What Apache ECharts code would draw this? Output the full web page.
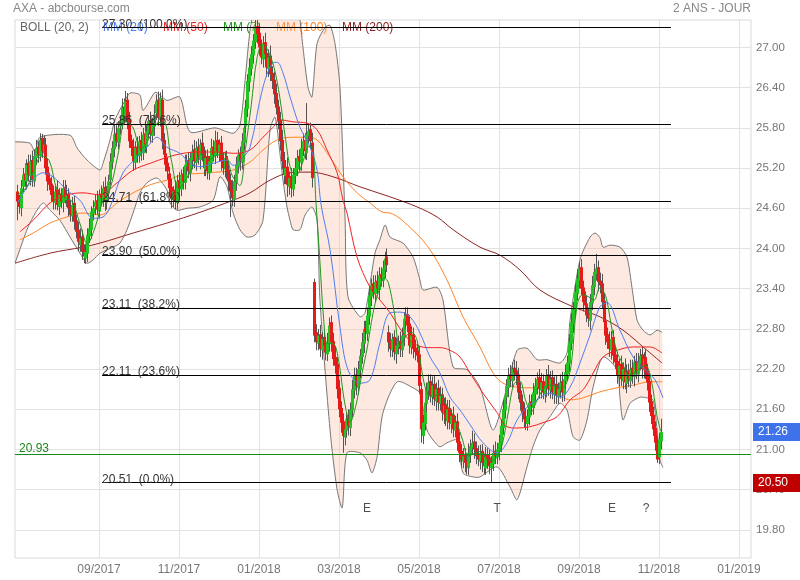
<!DOCTYPE html>
<html><head><meta charset="utf-8">
<script src="https://cdn.jsdelivr.net/npm/echarts@6/dist/echarts.min.js"></script>
<style>html,body{margin:0;padding:0;background:#fff}#c{width:800px;height:580px}</style>
</head><body><div id="c"></div>
<script>
// ---------- axis ticks ----------
const monthTickPos = [44.1, 86.1, 128.1, 170.1, 212.1, 254.1, 296.1, 338.1, 380.1];
const monthTickLabels = ['09/2017','11/2017','01/2018','03/2018','05/2018','07/2018','09/2018','11/2018','01/2019'];
const priceTicks = [19.8, 20.4, 21.0, 21.6, 22.2, 22.8, 23.4, 24.0, 24.6, 25.2, 25.8, 26.4, 27.0];

// ---------- daily candles (trading-day index 1..339) ----------
const opens = [
24.85,24.72,24.60,24.92,25.12,25.00,25.28,25.08,25.32,25.00,
25.35,25.52,25.38,25.65,25.42,25.55,25.22,25.05,24.97,24.82,
24.68,24.88,24.62,24.82,24.68,24.92,24.72,24.82,24.62,24.48,
24.68,24.42,24.28,24.05,24.18,23.98,23.85,23.92,24.18,24.28,
24.52,24.62,24.72,24.55,24.82,24.72,24.92,24.68,24.82,25.02,
25.28,25.48,25.72,25.58,25.82,25.88,26.12,25.98,26.22,25.92,
25.62,25.52,25.28,25.52,25.38,25.62,25.42,25.72,25.52,25.72,
25.92,25.68,25.82,26.02,26.22,25.92,26.22,25.62,25.42,25.28,
25.12,24.92,24.72,24.88,24.68,25.02,24.88,25.12,24.98,25.22,
25.32,25.12,25.32,25.48,25.28,25.52,25.32,25.58,25.42,25.18,
25.38,25.12,25.28,25.52,25.38,25.62,25.42,25.58,25.32,25.18,
25.38,25.18,25.02,24.88,24.72,24.98,25.22,25.42,25.28,25.58,
25.82,26.08,26.48,26.68,26.88,27.08,27.32,27.22,27.02,26.82,
27.08,26.92,26.68,26.88,26.62,26.52,26.32,26.12,25.92,25.62,
25.32,25.08,25.22,24.92,25.08,24.88,25.08,25.18,25.38,25.28,
25.48,25.62,25.42,25.68,25.78,25.58,23.50,22.75,22.58,22.72,
22.48,22.68,22.58,22.42,22.58,22.90,22.62,22.38,22.28,21.92,
21.62,21.42,21.18,21.28,21.48,21.32,21.58,21.88,22.12,21.92,
22.18,22.38,22.58,22.82,22.72,22.98,23.28,23.48,23.32,23.52,
23.38,23.62,23.52,23.68,23.88,22.75,22.62,22.48,22.68,22.42,
22.52,22.62,22.48,22.68,22.92,23.02,22.88,22.52,22.72,22.52,
22.48,22.42,21.90,21.20,21.38,21.68,21.88,22.02,21.78,21.98,
21.72,21.92,21.68,21.82,21.52,21.68,21.42,21.62,21.38,21.52,
21.28,21.42,21.12,20.98,20.82,20.92,20.82,20.72,20.92,21.02,
21.12,21.02,20.92,20.82,20.98,20.82,20.72,20.92,20.88,20.72,
20.78,20.98,20.88,20.98,21.08,21.32,21.58,21.78,21.92,22.12,
22.02,22.22,22.18,22.12,21.88,21.72,21.58,21.48,21.38,21.48,
21.72,21.62,21.82,21.92,22.08,21.88,22.02,21.82,21.92,22.12,
21.88,22.08,21.82,21.98,21.78,21.88,22.02,21.82,22.02,22.12,
22.28,22.58,22.88,23.08,23.32,23.52,23.72,23.42,23.22,23.18,
23.02,22.92,23.18,23.42,23.62,23.72,23.52,23.48,23.22,22.92,
22.72,22.62,22.48,22.68,22.42,22.32,22.08,22.28,22.02,22.22,
21.98,22.18,22.02,22.22,22.08,22.32,22.12,22.28,22.42,22.18,
22.38,22.18,22.02,21.72,21.52,21.32,21.12,20.88,21.12];
const closes = [
24.70,24.62,24.90,25.10,25.02,25.25,25.10,25.30,25.02,25.38,
25.50,25.40,25.62,25.45,25.55,25.20,25.00,24.95,24.80,24.70,
24.85,24.65,24.80,24.70,24.90,24.75,24.80,24.60,24.50,24.65,
24.40,24.25,24.10,24.15,23.95,23.88,23.95,24.20,24.30,24.55,
24.60,24.70,24.58,24.80,24.75,24.90,24.70,24.85,25.00,25.30,
25.50,25.70,25.60,25.80,25.90,26.10,26.00,26.20,25.90,25.60,
25.50,25.30,25.50,25.40,25.60,25.45,25.70,25.55,25.75,25.90,
25.70,25.85,26.00,26.20,25.95,26.25,25.60,25.40,25.25,25.15,
24.90,24.75,24.85,24.70,25.00,24.90,25.10,25.00,25.25,25.30,
25.15,25.35,25.45,25.30,25.50,25.35,25.55,25.40,25.20,25.35,
25.15,25.30,25.50,25.40,25.60,25.45,25.55,25.30,25.20,25.35,
25.15,25.00,24.85,24.75,25.00,25.25,25.40,25.30,25.60,25.80,
26.10,26.50,26.70,26.90,27.10,27.30,27.20,27.00,26.85,27.05,
26.90,26.70,26.85,26.60,26.50,26.30,26.10,25.90,25.60,25.30,
25.10,25.20,24.95,25.05,24.90,25.10,25.20,25.35,25.30,25.50,
25.60,25.45,25.70,25.75,25.60,25.05,22.70,22.60,22.70,22.50,
22.65,22.55,22.45,22.60,22.85,22.60,22.35,22.25,21.90,21.60,
21.40,21.20,21.30,21.45,21.35,21.60,21.90,22.10,21.95,22.20,
22.40,22.60,22.80,22.75,23.00,23.30,23.45,23.35,23.50,23.40,
23.60,23.55,23.70,23.85,23.75,22.60,22.50,22.65,22.45,22.55,
22.60,22.50,22.70,22.95,23.00,22.85,22.55,22.70,22.50,22.45,
22.40,21.95,21.30,21.40,21.70,21.90,22.00,21.80,21.95,21.75,
21.90,21.70,21.80,21.55,21.65,21.45,21.60,21.40,21.50,21.30,
21.40,21.10,20.95,20.85,20.90,20.80,20.75,20.95,21.05,21.10,
21.00,20.90,20.85,20.95,20.80,20.75,20.90,20.85,20.75,20.80,
20.95,20.90,21.00,21.10,21.35,21.60,21.80,21.95,22.10,22.05,
22.20,22.15,22.10,21.85,21.70,21.55,21.45,21.40,21.50,21.70,
21.65,21.85,21.95,22.05,21.90,22.00,21.85,21.95,22.10,21.90,
22.05,21.85,21.95,21.80,21.90,22.00,21.85,22.05,22.15,22.30,
22.60,22.90,23.10,23.35,23.55,23.70,23.40,23.20,23.15,23.00,
22.95,23.20,23.45,23.65,23.70,23.50,23.45,23.20,22.90,22.70,
22.60,22.50,22.65,22.40,22.30,22.10,22.25,22.05,22.20,22.00,
22.15,22.05,22.20,22.10,22.30,22.15,22.30,22.40,22.20,22.35,
22.15,22.00,21.70,21.50,21.30,21.10,20.85,21.15,21.26];
const upWick = [
0.10,0.08,0.12,0.10,0.15,0.08,0.12,0.10,0.14,0.10,
0.12,0.08,0.10,0.06,0.14,0.10,0.12,0.08,0.10,0.12,
0.08,0.14,0.10,0.08,0.12,0.10,0.15,0.08,0.10,0.12,
0.10,0.08,0.12,0.15,0.10,0.08,0.12,0.10,0.15,0.08,
0.12,0.10,0.14,0.08,0.12,0.10,0.15,0.08,0.10,0.12,
0.10,0.15,0.12,0.10,0.08,0.14,0.12,0.15,0.10,0.12,
0.08,0.12,0.10,0.15,0.08,0.12,0.10,0.14,0.10,0.08,
0.12,0.10,0.15,0.10,0.12,0.08,0.15,0.10,0.12,0.08,
0.10,0.12,0.08,0.14,0.10,0.12,0.08,0.10,0.15,0.10,
0.12,0.08,0.10,0.14,0.10,0.12,0.08,0.15,0.10,0.12,
0.10,0.08,0.14,0.10,0.16,0.12,0.08,0.10,0.12,0.10,
0.08,0.12,0.10,0.14,0.10,0.12,0.08,0.10,0.12,0.10,
0.12,0.10,0.14,0.12,0.10,0.20,0.12,0.14,0.10,0.12,
0.14,0.10,0.12,0.15,0.10,0.12,0.14,0.10,0.12,0.15,
0.12,0.10,0.14,0.10,0.12,0.10,0.15,0.12,0.10,0.14,
0.12,0.10,0.47,0.12,0.10,0.15,0.05,0.12,0.10,0.14,
0.10,0.12,0.10,0.14,0.12,0.10,0.12,0.15,0.10,0.12,
0.10,0.12,0.14,0.10,0.12,0.10,0.14,0.12,0.10,0.12,
0.10,0.14,0.12,0.10,0.12,0.14,0.10,0.12,0.10,0.14,
0.12,0.10,0.12,0.10,0.12,0.10,0.12,0.08,0.10,0.12,
0.10,0.14,0.12,0.10,0.12,0.10,0.12,0.14,0.10,0.12,
0.10,0.12,0.10,0.12,0.14,0.10,0.12,0.10,0.14,0.12,
0.10,0.12,0.14,0.10,0.12,0.10,0.14,0.12,0.10,0.12,
0.10,0.12,0.14,0.10,0.12,0.10,0.12,0.14,0.10,0.18,
0.12,0.10,0.14,0.12,0.10,0.12,0.14,0.10,0.12,0.10,
0.12,0.14,0.10,0.12,0.10,0.14,0.12,0.10,0.12,0.14,
0.10,0.12,0.14,0.10,0.12,0.10,0.12,0.14,0.10,0.12,
0.10,0.14,0.12,0.10,0.12,0.14,0.10,0.12,0.10,0.14,
0.12,0.10,0.14,0.12,0.10,0.12,0.14,0.10,0.12,0.10,
0.12,0.14,0.10,0.12,0.14,0.10,0.12,0.10,0.14,0.12,
0.10,0.12,0.14,0.12,0.22,0.10,0.12,0.14,0.10,0.12,
0.10,0.14,0.12,0.10,0.12,0.14,0.10,0.12,0.10,0.14,
0.12,0.10,0.14,0.12,0.10,0.12,0.14,0.10,0.12,0.10,
0.12,0.10,0.12,0.10,0.12,0.10,0.08,0.10,0.20];
const downWick = [
0.28,0.10,0.12,0.08,0.10,0.12,0.10,0.14,0.10,0.08,
0.10,0.12,0.08,0.10,0.12,0.10,0.14,0.08,0.10,0.12,
0.10,0.08,0.12,0.10,0.14,0.08,0.10,0.12,0.10,0.08,
0.12,0.10,0.14,0.10,0.12,0.10,0.08,0.12,0.10,0.14,
0.10,0.12,0.08,0.10,0.12,0.10,0.14,0.10,0.12,0.08,
0.10,0.12,0.08,0.10,0.12,0.10,0.14,0.10,0.12,0.10,
0.12,0.14,0.10,0.12,0.10,0.14,0.10,0.12,0.10,0.08,
0.12,0.10,0.14,0.10,0.12,0.10,0.12,0.14,0.10,0.12,
0.12,0.15,0.10,0.12,0.10,0.14,0.10,0.12,0.10,0.12,
0.10,0.12,0.14,0.10,0.12,0.10,0.14,0.10,0.12,0.10,
0.12,0.10,0.14,0.10,0.12,0.10,0.12,0.14,0.10,0.12,
0.12,0.14,0.38,0.12,0.10,0.12,0.10,0.14,0.10,0.12,
0.10,0.12,0.14,0.10,0.12,0.10,0.14,0.12,0.10,0.12,
0.10,0.14,0.12,0.10,0.12,0.14,0.10,0.12,0.14,0.12,
0.14,0.12,0.18,0.12,0.14,0.10,0.12,0.10,0.14,0.12,
0.10,0.12,0.10,0.12,0.10,0.14,0.10,0.12,0.10,0.12,
0.14,0.10,0.12,0.10,0.12,0.14,0.10,0.12,0.14,0.12,
0.15,0.25,0.12,0.10,0.14,0.12,0.10,0.12,0.14,0.10,
0.12,0.10,0.14,0.12,0.10,0.12,0.14,0.10,0.12,0.10,
0.14,0.12,0.10,0.12,0.10,0.14,0.12,0.10,0.12,0.14,
0.10,0.12,0.10,0.14,0.12,0.10,0.12,0.10,0.14,0.12,
0.10,0.12,0.20,0.12,0.10,0.12,0.14,0.10,0.12,0.10,
0.14,0.12,0.10,0.12,0.14,0.10,0.12,0.10,0.14,0.12,
0.10,0.12,0.14,0.12,0.10,0.14,0.12,0.10,0.12,0.10,
0.14,0.12,0.10,0.12,0.14,0.12,0.10,0.14,0.12,0.22,
0.10,0.12,0.10,0.14,0.12,0.10,0.12,0.10,0.14,0.12,
0.10,0.12,0.14,0.10,0.12,0.14,0.12,0.11,0.10,0.12,
0.14,0.10,0.12,0.10,0.14,0.12,0.10,0.12,0.14,0.10,
0.12,0.10,0.14,0.12,0.10,0.12,0.14,0.10,0.12,0.10,
0.12,0.10,0.14,0.12,0.10,0.12,0.10,0.14,0.12,0.10,
0.12,0.14,0.10,0.12,0.10,0.14,0.12,0.10,0.12,0.14,
0.10,0.12,0.14,0.12,0.10,0.12,0.14,0.10,0.12,0.10,
0.14,0.12,0.10,0.12,0.14,0.10,0.12,0.10,0.14,0.12,
0.10,0.12,0.14,0.12,0.10,0.12,0.05,0.10,0.12];

// ---------- indicators: [trading-day index, price] ----------
const ma7 = [[1,24.80],[4,24.85],[7,24.96],[10,25.17],[14,25.38],[18,25.31],[22,24.88],[26,24.76],[30,24.70],[34,24.38],[38,24.07],[42,24.31],[46,24.70],[50,24.90],[54,25.39],[58,25.90],[62,25.80],[66,25.48],[70,25.62],[74,25.85],[78,25.89],[82,25.33],[86,24.89],[90,25.04],[94,25.26],[98,25.41],[102,25.33],[106,25.39],[110,25.41],[114,25.09],[118,24.94],[121,25.49],[124,26.13],[127,26.83],[130,27.06],[133,26.94],[136,26.70],[139,26.26],[142,25.64],[145,25.16],[148,25.11],[151,25.28],[154,25.52],[156,25.52],[158,24.69],[160,23.84],[162,22.96],[164,22.58],[167,22.58],[170,22.31],[173,21.71],[176,21.41],[179,21.66],[182,22.11],[185,22.53],[188,23.04],[191,23.37],[194,23.56],[196,23.49],[199,23.07],[202,22.55],[205,22.68],[208,22.75],[211,22.64],[214,22.10],[217,21.81],[220,21.79],[223,21.84],[226,21.69],[229,21.56],[232,21.39],[235,21.14],[238,20.90],[241,20.94],[244,20.97],[247,20.88],[250,20.83],[253,20.88],[256,21.10],[259,21.56],[262,21.98],[265,22.02],[268,21.74],[271,21.56],[274,21.73],[277,21.89],[280,21.96],[283,21.95],[286,21.92],[289,21.96],[292,22.26],[295,23.14],[298,23.31],[301,23.28],[304,23.23],[307,23.41],[310,23.30],[313,22.86],[316,22.46],[319,22.28],[322,22.11],[325,22.14],[328,22.21],[331,22.26],[334,22.04],[337,21.51],[339,21.27]];
const ma20 = [[1.6,24.69],[14.7,25.13],[20.0,25.07],[27.3,24.87],[34.1,24.72],[41.0,24.45],[46.2,24.47],[49.9,24.62],[56.7,25.13],[64.1,25.36],[69.3,25.51],[74.6,25.66],[79.8,25.51],[86.6,25.42],[91.9,25.27],[97.1,25.22],[104.0,25.27],[111.3,25.32],[114.5,25.24],[119.7,25.36],[123.4,25.51],[130.2,26.41],[135.5,26.77],[137.6,26.78],[140.7,26.62],[144.4,26.26],[149.6,25.81],[154.9,25.51],[158.6,25.17],[160.7,24.65],[165.4,23.98],[170.6,22.83],[174.8,22.19],[181.1,21.99],[186.4,22.04],[191.6,22.59],[196.9,23.04],[202.1,23.05],[207.4,22.98],[212.6,22.74],[217.9,22.38],[223.1,22.14],[228.4,21.78],[233.6,21.59],[238.9,21.37],[245.7,21.10],[253.1,20.95],[258.3,21.10],[263.6,21.44],[268.8,21.63],[274.1,21.74],[280.9,21.84],[286.1,21.78],[291.4,21.93],[296.6,22.29],[301.9,22.71],[307.1,23.13],[310.8,23.19],[317.6,22.78],[324.5,22.38],[330.8,22.19],[336.0,22.04],[340.2,21.77]];
const ma50 = [[2.6,24.25],[9.5,24.42],[18.4,24.68],[27.3,24.80],[35.7,24.83],[44.6,24.80],[53.6,24.98],[62.0,25.17],[70.9,25.27],[79.8,25.36],[88.2,25.42],[97.1,25.44],[106.1,25.44],[114.5,25.42],[123.4,25.47],[130.2,25.66],[135.5,25.81],[139.1,25.92],[146.0,25.89],[153.3,25.87],[158.6,25.77],[163.8,25.47],[169.1,25.13],[172.2,24.72],[174.3,24.53],[179.6,23.87],[186.4,23.42],[191.6,23.23],[196.9,23.04],[203.7,22.74],[209.0,22.59],[216.3,22.52],[223.1,22.52],[228.4,22.48],[233.6,22.38],[238.9,22.14],[245.7,21.84],[253.1,21.55],[258.3,21.34],[263.6,21.32],[270.4,21.34],[277.2,21.40],[284.6,21.49],[291.4,21.74],[298.2,21.89],[303.5,22.14],[308.7,22.38],[316.1,22.48],[324.5,22.53],[333.4,22.53],[339.7,22.44]];
const ma100 = [[2.6,24.13],[9.5,24.23],[18.4,24.38],[27.3,24.47],[35.7,24.53],[44.6,24.50],[53.6,24.68],[62.0,24.83],[70.9,24.95],[79.8,25.02],[88.2,25.10],[97.1,25.12],[106.1,25.14],[114.5,25.17],[123.4,25.29],[130.2,25.47],[137.6,25.62],[146.0,25.66],[153.3,25.66],[158.6,25.62],[165.4,25.36],[172.2,25.07],[179.6,24.83],[186.4,24.68],[193.2,24.54],[196.9,24.53],[209.0,24.27],[217.9,23.98],[226.8,23.53],[235.2,22.98],[244.1,22.53],[251.0,22.14],[256.2,21.99],[263.6,21.93],[270.4,21.92],[277.2,21.92],[284.6,21.84],[291.4,21.74],[298.2,21.77],[307.1,21.86],[316.1,21.92],[324.5,21.96],[333.4,22.01],[339.7,22.01]];
const ma200 = [[0,23.78],[18.4,23.93],[35.7,24.02],[44.6,24.08],[62.0,24.23],[79.8,24.38],[97.1,24.54],[114.5,24.72],[123.4,24.83],[133.9,25.02],[144.4,25.13],[154.9,25.14],[167.0,25.07],[181.1,24.92],[196.9,24.77],[211.1,24.62],[221.6,24.47],[230.0,24.28],[244.1,24.02],[254.6,23.90],[265.1,23.68],[275.6,23.38],[293.0,23.13],[307.1,22.98],[319.2,22.78],[331.8,22.48],[339.7,22.29]];
const bollUpper = [[0,25.59],[7.9,25.57],[10.5,25.44],[13.1,25.66],[28.9,25.69],[32.6,25.50],[37.8,25.32],[44.6,25.17],[46.2,25.27],[49.9,25.62],[52.5,25.92],[57.8,26.21],[60.4,26.32],[65.6,26.29],[67.2,26.06],[73.5,26.33],[76.1,26.29],[79.8,26.21],[86.6,26.26],[91.9,25.74],[105.0,25.80],[114.5,25.72],[118.1,25.84],[120.8,26.51],[123.4,27.26],[126.0,27.63],[131.3,28.00],[139.1,28.15],[147.0,27.85],[149.6,27.41],[151.2,27.00],[153.8,26.41],[155.9,26.26],[158.6,27.06],[162.8,27.30],[165.4,27.33],[168.0,27.06],[170.6,26.41],[173.3,24.42],[174.8,23.28],[181.1,22.98],[183.8,23.04],[189.0,23.93],[191.6,24.13],[194.3,24.35],[196.9,24.17],[203.7,24.08],[209.0,23.87],[212.6,23.53],[214.2,23.38],[221.6,23.42],[224.7,23.23],[230.0,22.23],[237.3,22.19],[244.1,21.93],[251.0,21.29],[258.3,21.93],[263.6,22.48],[268.8,22.51],[274.1,22.34],[279.3,22.34],[286.1,22.29],[289.8,22.44],[291.4,22.93],[296.6,23.83],[301.9,24.17],[304.5,24.23],[307.1,24.16],[308.7,24.02],[312.4,24.05],[317.6,24.02],[321.3,23.87],[323.9,23.42],[326.6,22.93],[329.7,22.78],[333.4,22.71],[337.1,22.78],[339.7,22.75]];
const bollLower = [[0,23.78],[6.3,24.28],[9.5,24.47],[14.7,24.68],[18.4,24.57],[23.6,24.42],[28.9,24.17],[34.1,23.93],[37.8,23.78],[41.0,23.83],[44.6,23.93],[51.5,24.02],[55.1,24.08],[58.8,24.28],[62.0,24.53],[65.6,24.83],[69.3,24.98],[74.6,25.05],[79.8,24.87],[81.4,24.68],[85.1,24.57],[90.3,24.60],[97.1,24.62],[104.0,24.72],[107.6,25.07],[111.3,24.92],[114.5,24.53],[118.1,24.28],[121.8,24.17],[126.0,24.20],[130.2,24.42],[133.9,25.77],[136.5,25.96],[139.1,25.42],[140.7,25.02],[142.8,24.62],[144.4,24.42],[146.0,24.28],[149.6,24.28],[152.3,24.50],[155.9,24.62],[158.6,24.42],[160.1,23.23],[165.4,21.29],[169.1,20.40],[171.8,20.13],[174.3,20.95],[181.1,20.95],[184.8,20.84],[187.4,20.65],[190.1,20.89],[193.2,21.55],[200.6,22.01],[209.0,21.92],[212.6,21.84],[216.3,21.29],[219.5,21.14],[223.1,21.04],[226.8,21.10],[232.1,21.14],[235.2,20.65],[240.5,20.59],[244.1,20.59],[253.1,20.74],[259.9,20.44],[263.6,20.25],[268.8,20.74],[271.9,21.04],[275.6,21.29],[280.9,21.49],[286.1,21.69],[289.8,21.59],[293.0,21.19],[296.6,21.14],[300.3,21.44],[303.5,21.93],[308.7,22.38],[316.1,22.19],[317.6,21.78],[319.2,21.44],[322.9,21.69],[328.1,21.78],[331.8,21.77],[334.9,21.74],[337.1,21.29],[338.6,20.84],[340.2,20.73]];

// ---------- Fibonacci retracement ----------
const fibLevels = [27.30, 25.86, 24.71, 23.90, 23.11, 22.11, 20.51];
const fibPct = ['100.0%', '78.6%', '61.8%', '50.0%', '38.2%', '23.6%', '0.0%'];
const fibSpan = [45.7, 344.4];

// ---------- reference lines / tags / events ----------
const supportLevel = 20.93;
const lastPrice = 21.26;
const lowTag = 20.50;
const eventPos = [184.8, 253.1, 313.4, 331.3];
const eventText = ['E', 'T', 'E', '?'];
const eventLevel = 20.12;

const FONT = '"Liberation Sans", Arial, sans-serif';
const C = {ma20:'#4f7ef2', ma50:'#f02424', ma7:'#1e961e', ma100:'#ff8526', ma200:'#8f2424',
           up:'#22c322', down:'#e31b1b', wick:'#555', band:'#777'};

const candles = closes.map((c, i) => {
  const o = opens[i];
  return [i + 1, o, c, +(Math.min(o, c) - downWick[i]).toFixed(2), +(Math.max(o, c) + upWick[i]).toFixed(2)];
});

function clipOf(params) {
  const cs = params.coordSys;
  return {type: 'rect', shape: {x: cs.x, y: cs.y, width: cs.width, height: cs.height}};
}

function renderCandle(params, api) {
  const x = api.value(0), o = api.value(1), c = api.value(2), l = api.value(3), h = api.value(4);
  const pO = api.coord([x, o]), pC = api.coord([x, c]), pL = api.coord([x, l]), pH = api.coord([x, h]);
  const xi = Math.round(pO[0]);
  const top = Math.min(pO[1], pC[1]);
  const bh = Math.max(1, Math.abs(pO[1] - pC[1]));
  return {
    type: 'group', clipPath: clipOf(params),
    children: [
      {type: 'line', shape: {x1: xi + 0.5, y1: pH[1], x2: xi + 0.5, y2: pL[1]}, style: {stroke: C.wick, lineWidth: 1}},
      {type: 'rect', shape: {x: xi - 1, y: top, width: 3, height: bh}, style: {fill: c >= o ? C.up : C.down}}
    ]
  };
}

function renderBand(params, api) {
  if (params.dataIndex !== 0) return null;
  const up = bollUpper.map(p => api.coord(p));
  const lo = bollLower.map(p => api.coord(p));
  return {
    type: 'group', clipPath: clipOf(params),
    children: [
      {type: 'polygon', shape: {points: up.concat(lo.slice().reverse()), smooth: 0.25}, style: {fill: 'rgba(248,188,156,0.32)'}},
      {type: 'polyline', shape: {points: up, smooth: 0.25}, style: {stroke: C.band, lineWidth: 1, fill: null}},
      {type: 'polyline', shape: {points: lo, smooth: 0.25}, style: {stroke: C.band, lineWidth: 1, fill: null}}
    ]
  };
}

function maLine(name, data, color, z) {
  return {name, type: 'line', data, smooth: 0.35, showSymbol: false, symbol: 'none', z,
          lineStyle: {color, width: 1}, itemStyle: {color}, silent: true, animation: false};
}

const chart = echarts.init(document.getElementById('c'), null, {renderer: 'canvas'});
chart.setOption({
  animation: false,
  backgroundColor: '#fff',
  textStyle: {fontFamily: FONT},
  grid: {left: 15, top: 20, width: 736, height: 538, show: true, borderColor: '#d9d9d9', borderWidth: 1},
  xAxis: {
    type: 'value', min: 0, max: 386.4,
    axisLine: {show: false}, axisTick: {show: false, customValues: monthTickPos},
    axisLabel: {customValues: monthTickPos, color: '#777', fontSize: 12, margin: 6, fontFamily: FONT,
      formatter: v => { const i = monthTickPos.findIndex(t => Math.abs(t - v) < 0.01); return i >= 0 ? monthTickLabels[i] : ''; }},
    splitLine: {show: true, lineStyle: {color: '#e2e2e2', width: 1}}
  },
  yAxis: {
    type: 'value', position: 'right', min: 19.38, max: 27.41, scale: true,
    axisLine: {show: false}, axisTick: {show: false, customValues: priceTicks},
    axisLabel: {customValues: priceTicks, color: '#777', fontSize: 11.5, margin: 5, fontFamily: FONT,
      padding: [0, 0, 7, 0], formatter: v => v.toFixed(2)},
    splitLine: {show: true, lineStyle: {color: '#e2e2e2', width: 1}}
  },
  graphic: [
    {type: 'text', left: 13, top: 3, style: {text: 'AXA - abcbourse.com', fill: '#888', font: '12px ' + FONT}},
    {type: 'text', right: 49, top: 3, style: {text: '2 ANS - JOUR', fill: '#888', font: '12px ' + FONT}},
    {type: 'text', left: 20, top: 22, z: 1, style: {text: 'BOLL (20, 2)', fill: '#666', font: '12px ' + FONT}},
    {type: 'text', left: 103, top: 22, z: 1, style: {text: 'MM (20)', fill: C.ma20, font: '12px ' + FONT}},
    {type: 'text', left: 163, top: 22, z: 1, style: {text: 'MM (50)', fill: C.ma50, font: '12px ' + FONT}},
    {type: 'text', left: 223, top: 22, z: 1, style: {text: 'MM (7)', fill: C.ma7, font: '12px ' + FONT}},
    {type: 'text', left: 276, top: 22, z: 1, style: {text: 'MM (100)', fill: C.ma100, font: '12px ' + FONT}},
    {type: 'text', left: 342, top: 22, z: 1, style: {text: 'MM (200)', fill: C.ma200, font: '12px ' + FONT}}
  ],
  series: [
    {name: 'BOLL', type: 'custom', renderItem: renderBand, data: bollUpper, encode: {x: 0, y: 1}, z: 1, silent: true, animation: false},
    {name: 'support', type: 'line', data: [], z: 2, silent: true,
      markLine: {silent: true, symbol: ['none', 'none'], animation: false,
        data: [
          {yAxis: supportLevel, lineStyle: {color: '#1a8a1a', width: 1, type: 'solid'},
           label: {show: true, position: 'insideStartTop', formatter: supportLevel.toFixed(2), color: '#1a8a1a', fontSize: 12, fontFamily: FONT, distance: [4, -1]}}
        ]}},
    maLine('MM (200)', ma200, C.ma200, 3),
    maLine('MM (100)', ma100, C.ma100, 3),
    {name: 'candles', type: 'custom', renderItem: renderCandle, data: candles, encode: {x: 0, y: [1, 2, 3, 4]}, z: 4, silent: true, animation: false},
    maLine('MM (50)', ma50, C.ma50, 5),
    maLine('MM (20)', ma20, C.ma20, 5),
    maLine('MM (7)', ma7, C.ma7, 5),
    {name: 'fib', type: 'line', data: [], z: 6, silent: true,
      markLine: {silent: true, symbol: ['none', 'none'], animation: false,
        lineStyle: {color: '#000', width: 1, type: 'solid'},
        label: {show: true, position: 'insideStartTop', color: '#333', fontSize: 12, fontFamily: FONT, formatter: '{b}', distance: [0, -3]},
        data: fibLevels.map((v, i) => [
          {name: v.toFixed(2) + '  (' + fibPct[i] + ')', coord: [fibSpan[0], v]},
          {coord: [fibSpan[1], v]}
        ])}},
    {name: 'tags', type: 'line', data: [], z: 8, silent: true,
      markLine: {silent: true, symbol: ['none', 'none'], animation: false,
        lineStyle: {color: 'rgba(0,0,0,0)', width: 1},
        data: [
          {yAxis: lastPrice,
           label: {show: true, position: 'end', formatter: lastPrice.toFixed(2), color: '#fff', backgroundColor: '#3d72ea', padding: [3, 14, 3, 5], fontSize: 12, fontFamily: FONT, distance: 2}},
          {yAxis: lowTag,
           label: {show: true, position: 'end', formatter: lowTag.toFixed(2), color: '#fff', backgroundColor: '#c00000', padding: [3, 14, 3, 5], fontSize: 12, fontFamily: FONT, distance: 2}}
        ]}},
    {name: 'events', type: 'scatter', z: 7, silent: true, symbolSize: 1,
      itemStyle: {color: 'rgba(0,0,0,0)'},
      label: {show: true, position: 'inside', color: '#222', fontSize: 12, fontFamily: FONT, formatter: p => p.value[2]},
      data: eventPos.map((x, i) => [x, eventLevel, eventText[i]])}
  ]
});
</script></body></html>
